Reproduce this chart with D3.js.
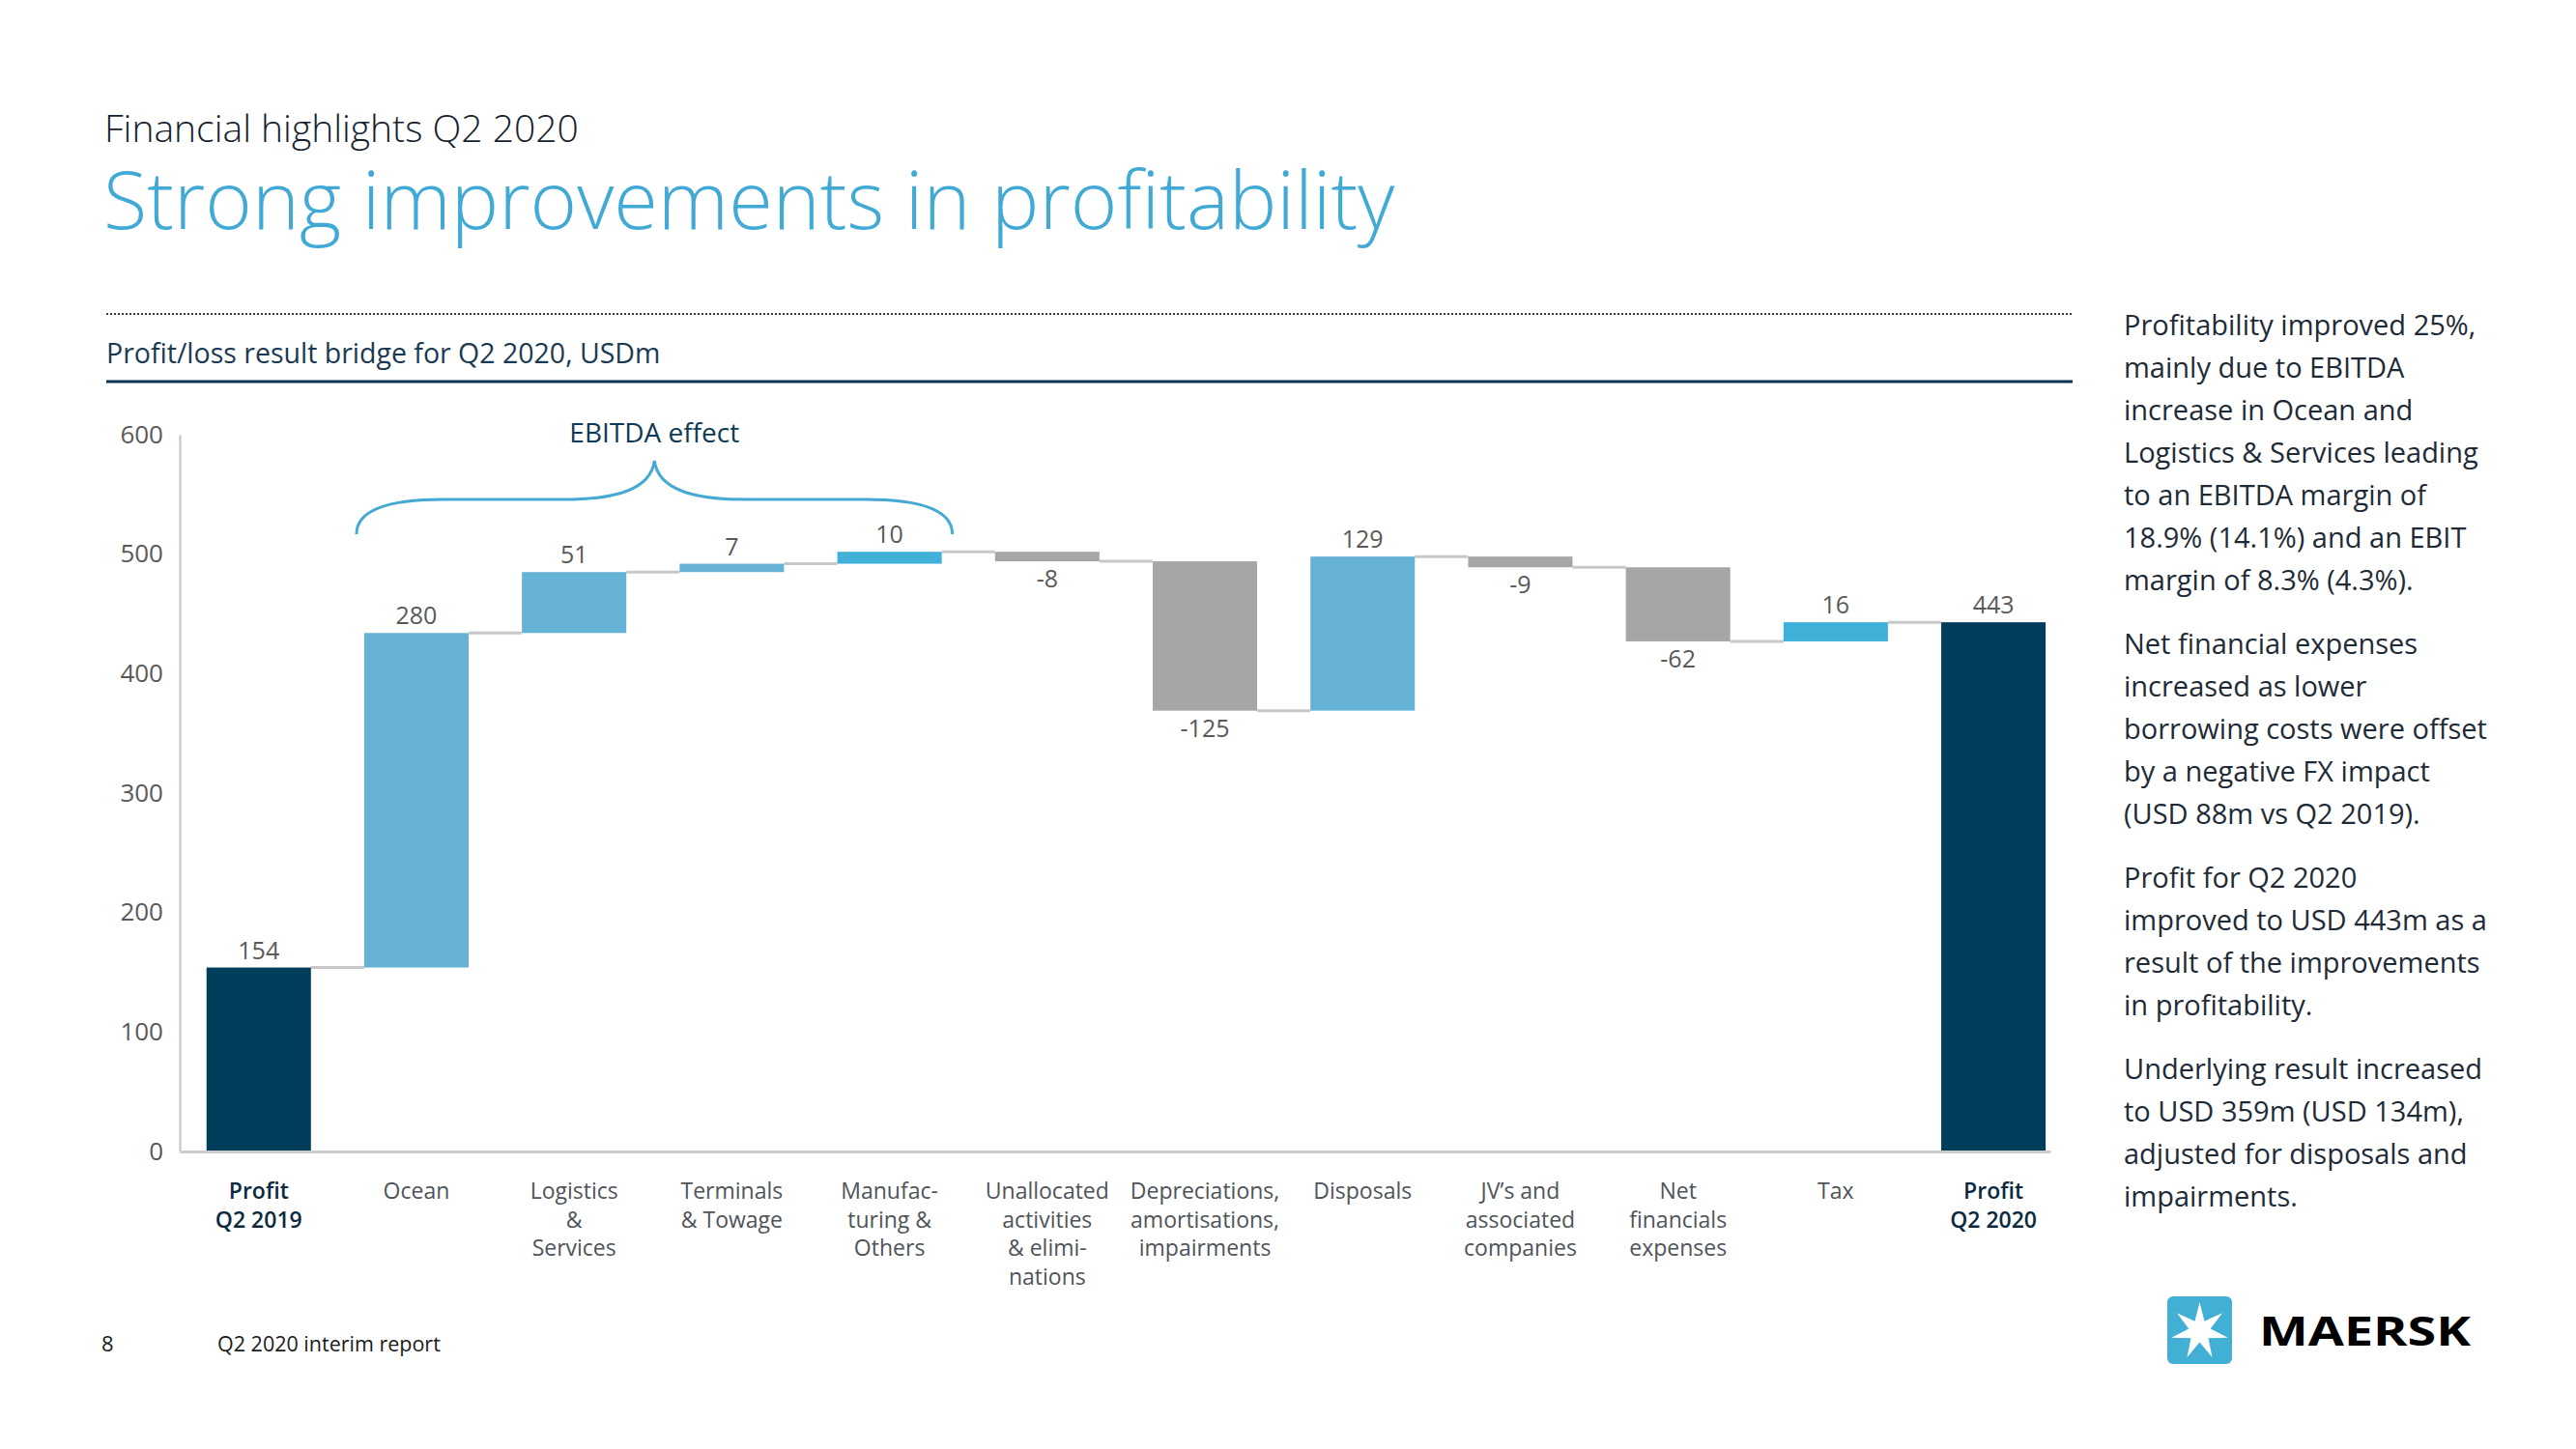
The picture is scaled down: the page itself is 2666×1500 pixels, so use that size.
<!DOCTYPE html>
<html>
<head>
<meta charset="utf-8">
<script src="https://cdn.jsdelivr.net/npm/d3@7/dist/d3.min.js"></script>
<style>
  html, body { margin: 0; padding: 0; background: #ffffff; }
  svg { display: block; }
  text { font-family: "Open Sans", "Noto Sans", sans-serif; }
</style>
</head>
<body>
<svg id="chart" width="2666" height="1500"></svg>
<script>
// ---------------- data ----------------
const categories = [
  "Profit Q2 2019", "Ocean", "Logistics & Services", "Terminals & Towage",
  "Manufacturing & Others", "Unallocated activities & eliminations",
  "Depreciations, amortisations, impairments", "Disposals",
  "JV’s and associated companies", "Net financials expenses", "Tax", "Profit Q2 2020"
];
const categoryLines = [
  ["Profit", "Q2 2019"], ["Ocean"], ["Logistics", "&", "Services"], ["Terminals", "& Towage"],
  ["Manufac-", "turing &", "Others"], ["Unallocated", "activities", "& elimi-", "nations"],
  ["Depreciations,", "amortisations,", "impairments"], ["Disposals"],
  ["JV’s and", "associated", "companies"], ["Net", "financials", "expenses"], ["Tax"], ["Profit", "Q2 2020"]
];
const values = [154, 280, 51, 7, 10, -8, -125, 129, -9, -62, 16, 443];
const kinds = ["total", "increase", "increase", "increase", "highlight", "decrease",
               "decrease", "increase", "decrease", "decrease", "highlight", "total"];
const yTicks = [0, 100, 200, 300, 400, 500, 600];
const braceRange = [1, 4]; // Ocean .. Manufacturing
const braceLabel = "EBITDA effect";

const paragraphs = [
  ["Profitability improved 25%,", "mainly due to EBITDA", "increase in Ocean and",
   "Logistics & Services leading", "to an EBITDA margin of", "18.9% (14.1%) and an EBIT",
   "margin of 8.3% (4.3%)."],
  ["Net financial expenses", "increased as lower", "borrowing costs were offset",
   "by a negative FX impact", "(USD 88m vs Q2 2019)."],
  ["Profit for Q2 2020", "improved to USD 443m as a", "result of the improvements",
   "in profitability."],
  ["Underlying result increased", "to USD 359m (USD 134m),", "adjusted for disposals and",
   "impairments."]
];

// ---------------- drawing ----------------
const svg = d3.select("#chart");
svg.append("rect").attr("width", 2666).attr("height", 1500).attr("fill", "#ffffff");

const colors = { total: "#013e5b", increase: "#65b2d4", highlight: "#3fb0d8", decrease: "#a6a6a6" };

// header
svg.append("text").attr("x", 108).attr("y", 147).attr("font-size", 39).attr("font-weight", 300)
  .attr("fill", "#15222e").text("Financial highlights Q2 2020");
svg.append("text").attr("x", 107).attr("y", 237).attr("font-size", 83).attr("font-weight", 300)
  .attr("fill", "#40a9d5").text("Strong improvements in profitability");
svg.append("line").attr("x1", 110).attr("x2", 2145).attr("y1", 325).attr("y2", 325)
  .attr("stroke", "#3a3a3a").attr("stroke-width", 2).attr("stroke-dasharray", "2,2");
svg.append("text").attr("x", 110).attr("y", 376).attr("font-size", 28.5)
  .attr("fill", "#1b3a52").text("Profit/loss result bridge for Q2 2020, USDm");
svg.append("line").attr("x1", 110).attr("x2", 2145).attr("y1", 395).attr("y2", 395)
  .attr("stroke", "#0a3350").attr("stroke-width", 3);

// scales
const x = d3.scaleBand().domain(categories).range([186, 2122])
  .paddingInner(0.338).paddingOuter(0.1).align(0.85);
const y = d3.scaleLinear().domain([0, 600]).range([1192, 450]);

// y axis
const yAxis = svg.append("g").attr("transform", "translate(186,0)")
  .call(d3.axisLeft(y).tickValues(yTicks).tickSize(0).tickSizeOuter(0).tickPadding(17));
yAxis.select(".domain").attr("stroke", "#c4c4c4").attr("stroke-width", 2);
yAxis.selectAll("text").attr("font-size", 26).attr("fill", "#595959")
  .attr("font-family", "'Open Sans', sans-serif");

// waterfall computation
let running = 0;
const bars = values.map((v, i) => {
  let start, end;
  if (kinds[i] === "total") { start = 0; end = v; }
  else { start = running; end = running + v; }
  running = end;
  return { cat: categories[i], v, kind: kinds[i], start, end, i };
});

// connectors
const conn = svg.append("g");
bars.slice(0, -1).forEach((b, i) => {
  const nxt = bars[i + 1];
  conn.append("line")
    .attr("x1", x(b.cat) + x.bandwidth()).attr("x2", x(nxt.cat))
    .attr("y1", y(b.end)).attr("y2", y(b.end))
    .attr("stroke", "#c8c8c8").attr("stroke-width", 3);
});

// bars
svg.append("g").selectAll("rect").data(bars).join("rect")
  .attr("x", d => x(d.cat)).attr("width", x.bandwidth())
  .attr("y", d => y(Math.max(d.start, d.end)))
  .attr("height", d => Math.abs(y(d.start) - y(d.end)))
  .attr("fill", d => colors[d.kind]);

// value labels
svg.append("g").selectAll("text").data(bars).join("text")
  .attr("x", d => x(d.cat) + x.bandwidth() / 2)
  .attr("y", d => d.v >= 0 ? y(Math.max(d.start, d.end)) - 9 : y(Math.min(d.start, d.end)) + 27)
  .attr("text-anchor", "middle").attr("font-size", 25).attr("fill", "#595959")
  .text(d => d.v);

// x axis
const xAxis = svg.append("g").attr("transform", "translate(0,1192)")
  .call(d3.axisBottom(x).tickSize(0).tickSizeOuter(0).tickFormat(""));
xAxis.select(".domain").attr("stroke", "#cccccc").attr("stroke-width", 3);
xAxis.selectAll(".tick").each(function (d, i) {
  const t = d3.select(this).append("text")
    .attr("text-anchor", "middle").attr("font-size", 23)
    .attr("font-family", "'Open Sans', sans-serif")
    .attr("fill", kinds[i] === "total" ? "#0b2a40" : "#4f545a")
    .attr("font-weight", kinds[i] === "total" ? 600 : 400);
  categoryLines[i].forEach((line, k) => {
    t.append("tspan").attr("x", 0).attr("y", 49 + k * 29.7).text(line);
  });
});

// brace annotation
const bx0 = x(categories[braceRange[0]]) - 8;
const bx1 = x(categories[braceRange[1]]) + x.bandwidth() + 11;
const bmid = (bx0 + bx1) / 2;
const yEnd = 553, yFlat = 517, yTip = 477;
const bracePath = d3.path();
bracePath.moveTo(bx0, yEnd);
bracePath.bezierCurveTo(bx0, yFlat + 8, bx0 + 40, yFlat, bx0 + 90, yFlat);
bracePath.lineTo(bmid - 95, yFlat);
bracePath.bezierCurveTo(bmid - 40, yFlat, bmid - 4, yFlat - 10, bmid, yTip);
bracePath.bezierCurveTo(bmid + 4, yFlat - 10, bmid + 40, yFlat, bmid + 95, yFlat);
bracePath.lineTo(bx1 - 90, yFlat);
bracePath.bezierCurveTo(bx1 - 40, yFlat, bx1, yFlat + 8, bx1, yEnd);
svg.append("path").attr("d", bracePath.toString()).attr("fill", "none")
  .attr("stroke", "#45a9d3").attr("stroke-width", 3);
svg.append("text").attr("x", bmid).attr("y", 458).attr("text-anchor", "middle")
  .attr("font-size", 28).attr("font-weight", 500).attr("fill", "#0d3b55").text(braceLabel);

// right-hand commentary
const para = svg.append("g");
let baseY = 347;
paragraphs.forEach(p => {
  p.forEach(line => {
    para.append("text").attr("x", 2198).attr("y", baseY).attr("font-size", 29)
      .attr("fill", "#1e2b37").text(line);
    baseY += 44;
  });
  baseY += 22;
});

// footer
svg.append("text").attr("x", 105).attr("y", 1399).attr("font-size", 22).attr("fill", "#1a1a1a").text("8");
svg.append("text").attr("x", 225).attr("y", 1399).attr("font-size", 21.5).attr("fill", "#1a1a1a").text("Q2 2020 interim report");

// logo
const logo = svg.append("g");
logo.append("rect").attr("x", 2243).attr("y", 1342).attr("width", 67).attr("height", 70)
  .attr("rx", 6).attr("fill", "#42b0d5");
const cx = 2276.5, cy = 1378, R = 30, r = 11.5;
const starPts = d3.range(14).map(k => {
  const a = -Math.PI / 2 + k * Math.PI / 7;
  const rad = k % 2 === 0 ? R : r;
  return [cx + rad * Math.cos(a), cy + rad * Math.sin(a)];
});
logo.append("path").attr("d", d3.line()(starPts) + "Z").attr("fill", "#ffffff");
logo.append("text").attr("x", 2338).attr("y", 1393).attr("font-size", 42)
  .attr("font-family", "'DejaVu Sans', sans-serif").attr("font-weight", 700)
  .attr("fill", "#000000").attr("textLength", 219).attr("lengthAdjust", "spacingAndGlyphs")
  .text("MAERSK");
</script>
</body>
</html>
